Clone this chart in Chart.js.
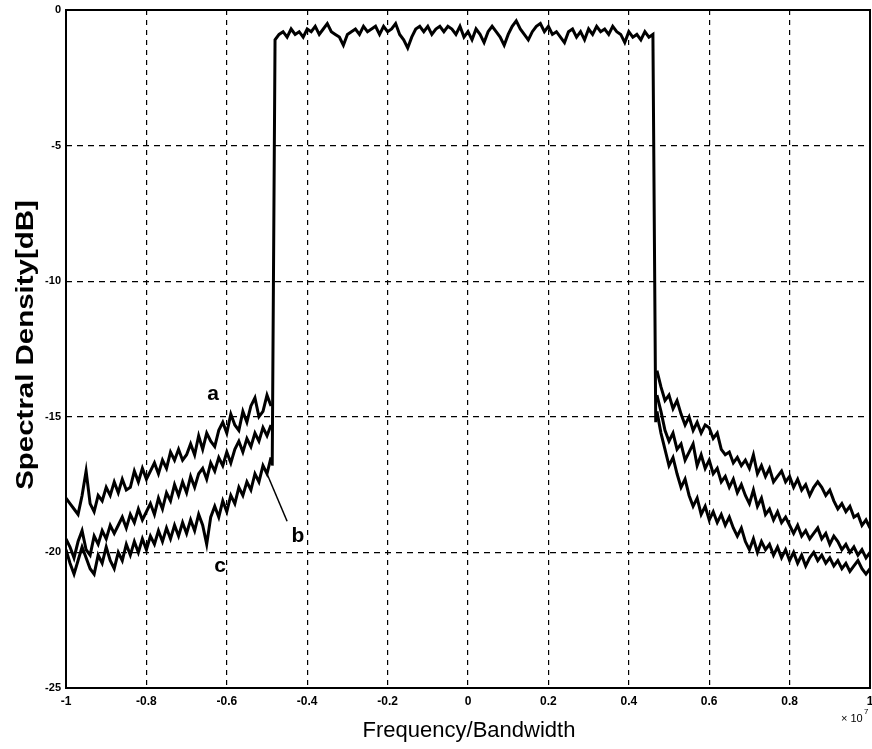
<!DOCTYPE html>
<html>
<head>
<meta charset="utf-8">
<script src="https://cdn.jsdelivr.net/npm/chart.js@4.4.1/dist/chart.umd.min.js"></script>
<style>
  html, body { margin: 0; padding: 0; background: #fff; }
  #wrap { width: 872px; height: 749px; }
</style>
</head>
<body>
<div id="wrap"><canvas id="psd" width="872" height="749"></canvas></div>
<script>
// x axis is frequency / bandwidth (x 10^7), y is spectral density in dB
const xTicks = [-1, -0.8, -0.6, -0.4, -0.2, 0, 0.2, 0.4, 0.6, 0.8, 1];
const yTicks = [0, -5, -10, -15, -20, -25];

// passband, -0.48 .. 0.46 step 0.01
const passStart = -0.48;
const passStep = 0.01;
const passLevel = [
  -1.1, -0.9, -0.8, -1.0, -0.7, -0.9, -0.8, -1.0, -0.7, -0.8,
  -0.6, -0.9, -0.7, -0.5, -0.8, -0.9, -1.0, -1.3, -0.9, -0.8,
  -0.7, -0.9, -0.6, -0.8, -0.7, -0.6, -0.9, -0.6, -0.8, -0.7,
  -0.5, -0.9, -1.1, -1.4, -1.0, -0.7, -0.6, -0.8, -0.6, -0.9,
  -0.7, -0.6, -0.8, -0.6, -0.7, -0.9, -0.6, -1.0, -0.8, -1.1,
  -0.7, -0.9, -1.2, -0.8, -0.6, -0.8, -1.0, -1.3, -0.9, -0.6,
  -0.4, -0.7, -0.9, -1.1, -0.8, -0.6, -0.5, -0.8, -0.6, -0.9,
  -0.8, -1.0, -1.2, -0.8, -0.7, -1.0, -0.8, -1.1, -0.7, -0.9,
  -0.6, -0.8, -0.7, -0.9, -0.6, -0.8, -0.9, -1.2, -0.8, -1.0,
  -0.9, -1.1, -0.8, -1.0, -0.9
];
// steep band edges
const edgeFreq = [-0.487, 0.467];
const edgeLevel = [-16.8, -15.2];

// left sidebands, -1.00 .. -0.49 step 0.01
const leftStart = -1.0;
const leftA = [
  -18.0, -18.2, -18.4, -18.6, -17.9, -17.0, -18.2, -18.5, -17.9, -18.1,
  -17.6, -17.9, -17.4, -17.8, -17.3, -17.7, -17.6, -17.0, -17.4, -16.9,
  -17.3, -17.0, -16.7, -17.1, -16.6, -16.9, -16.3, -16.6, -16.2, -16.6,
  -16.4, -16.0, -16.4, -15.7, -16.2, -15.6, -15.9, -16.1, -15.5, -15.2,
  -15.6, -14.9, -15.3, -15.5, -14.8, -15.2, -14.6, -14.3, -15.0, -14.8,
  -14.2, -14.6
];
const leftB = [
  -19.5, -19.8, -20.2, -19.6, -19.2, -19.9, -20.1, -19.4, -19.7, -19.2,
  -19.5, -19.0, -19.3, -19.0, -18.7, -19.1, -18.6, -18.9, -18.4, -18.8,
  -18.5, -18.2, -18.6, -18.0, -18.4, -17.8, -18.1, -17.5, -17.9, -17.4,
  -17.8, -17.2, -17.6, -17.1, -16.9, -17.3, -16.7, -17.0, -16.5, -16.8,
  -16.3, -16.7, -16.2, -15.9, -16.3, -15.8, -16.1, -15.6, -15.9, -15.4,
  -15.7, -15.3
];
const leftC = [
  -19.9, -20.4, -20.8, -20.3, -19.8, -20.2, -20.6, -20.8, -20.1, -20.4,
  -19.8, -20.3, -20.6, -20.0, -20.3, -19.7, -20.1, -19.6, -20.0, -19.5,
  -19.9, -19.4, -19.7, -19.2, -19.6, -19.1, -19.5, -19.0, -19.4, -18.9,
  -19.3, -18.8, -19.2, -18.6, -19.0, -19.7, -18.7, -18.3, -18.7, -18.1,
  -18.5, -17.9, -18.2, -17.6, -17.9, -17.4, -17.7, -17.1, -17.4, -16.8,
  -17.1, -16.5
];

// right sidebands, 0.47 .. 1.00 step 0.01
const rightStart = 0.47;
const rightA = [
  -13.3, -13.9, -14.4, -14.2, -14.7, -14.4, -14.9, -15.3, -15.0, -15.5,
  -15.2, -15.6, -15.3, -15.4, -15.8, -15.6, -16.2, -16.4, -16.3, -16.7,
  -16.5, -16.8, -16.6, -16.9, -16.4, -17.1, -16.8, -17.2, -16.9, -17.4,
  -17.2, -17.0, -17.4, -17.2, -17.6, -17.3, -17.7, -17.5, -17.9, -17.6,
  -17.4, -17.6, -17.9, -17.7, -18.1, -18.4, -18.2, -18.5, -18.3, -18.7,
  -18.6, -19.0, -18.8, -19.1
];
const rightB = [
  -14.2, -14.8, -15.5, -15.9, -15.6, -16.2, -16.0, -16.6, -16.3, -16.0,
  -16.8, -16.4, -16.9, -16.6, -17.1, -16.9, -17.4, -17.2, -17.6, -17.3,
  -17.8, -17.5, -17.9, -18.2, -17.7, -18.3, -18.0, -18.6, -18.4, -18.8,
  -18.5, -18.9, -18.7, -19.0, -19.3, -19.0, -19.4, -19.2, -19.5, -19.3,
  -19.1, -19.5, -19.3, -19.7, -19.4, -19.6, -19.9, -19.7, -20.0, -19.8,
  -20.1, -19.9, -20.2, -20.0
];
const rightC = [
  -14.8, -15.6, -16.2, -16.8, -16.5, -17.1, -17.6, -17.3, -17.9, -18.3,
  -18.0, -18.6, -18.3, -18.8, -18.5, -18.9, -18.6, -19.0, -18.7, -19.1,
  -19.4, -19.1, -19.6, -19.9, -19.5, -20.0, -19.6, -19.9, -19.7, -20.1,
  -19.8, -20.2, -19.9, -20.3, -20.0, -20.4, -20.1, -20.5, -20.2, -20.0,
  -20.3, -20.1, -20.4, -20.2, -20.5, -20.3, -20.6, -20.4, -20.7, -20.5,
  -20.3, -20.6, -20.8, -20.6
];

// curve labels a, b, c and the pointer line for b
const curveLabels = ["a", "b", "c"];
const labelFreq = [-0.634, -0.423, -0.617];
const labelLevel = [-14.15, -19.4, -20.5];
const pointerFreq = [-0.5, -0.45];
const pointerLevel = [-17.1, -18.85];

function toPoints(start, step, values) {
  return values.map((v, i) => ({ x: +(start + i * step).toFixed(3), y: v }));
}

let passPoints = toPoints(passStart, passStep, passLevel);
passPoints.unshift({ x: edgeFreq[0], y: edgeLevel[0] });
passPoints.push({ x: edgeFreq[1], y: edgeLevel[1] });

function lineSet(points, width) {
  return {
    data: points,
    borderColor: "#000",
    borderWidth: width,
    pointRadius: 0,
    tension: 0,
    fill: false
  };
}

const datasets = [
  lineSet(passPoints, 3),
  lineSet(toPoints(leftStart, 0.01, leftA), 3),
  lineSet(toPoints(leftStart, 0.01, leftB), 3),
  lineSet(toPoints(leftStart, 0.01, leftC), 3),
  lineSet(toPoints(rightStart, 0.01, rightA), 3),
  lineSet(toPoints(rightStart, 0.01, rightB), 3),
  lineSet(toPoints(rightStart, 0.01, rightC), 3)
];

const decorations = {
  id: "decorations",
  afterDatasetsDraw(chart) {
    const { ctx, chartArea, scales } = chart;
    const xs = scales.x;
    const ys = scales.y;
    ctx.save();
    // frame
    ctx.strokeStyle = "#000";
    ctx.lineWidth = 2;
    ctx.setLineDash([]);
    ctx.strokeRect(chartArea.left, chartArea.top, chartArea.right - chartArea.left, chartArea.bottom - chartArea.top);

    // pointer for b
    ctx.lineWidth = 1.5;
    ctx.beginPath();
    ctx.moveTo(xs.getPixelForValue(pointerFreq[0]), ys.getPixelForValue(pointerLevel[0]));
    ctx.lineTo(xs.getPixelForValue(pointerFreq[1]), ys.getPixelForValue(pointerLevel[1]));
    ctx.stroke();

    ctx.fillStyle = "#000";
    ctx.font = "bold 21px 'Liberation Sans', Arial, sans-serif";
    ctx.textAlign = "center";
    ctx.textBaseline = "middle";
    curveLabels.forEach((t, i) => {
      ctx.fillText(t, xs.getPixelForValue(labelFreq[i]), ys.getPixelForValue(labelLevel[i]));
    });

    // axis titles
    ctx.textBaseline = "alphabetic";
    ctx.font = "22px 'Liberation Sans', Arial, sans-serif";
    ctx.fillText("Frequency/Bandwidth", 469, 737);

    ctx.save();
    ctx.translate(33, 345);
    ctx.rotate(-Math.PI / 2);
    ctx.scale(1.28, 1);
    ctx.font = "bold 23px 'Liberation Sans', Arial, sans-serif";
    ctx.fillText("Spectral Density[dB]", 0, 0);
    ctx.restore();

    // exponent note
    ctx.textAlign = "left";
    ctx.font = "11px 'Liberation Sans', Arial, sans-serif";
    ctx.fillText("\u00d7 10", 841, 722);
    ctx.font = "8px 'Liberation Sans', Arial, sans-serif";
    ctx.fillText("7", 864, 714);
    ctx.restore();
  }
};

new Chart(document.getElementById("psd"), {
  type: "line",
  data: { datasets: datasets },
  plugins: [decorations],
  options: {
    responsive: false,
    animation: false,
    layout: { padding: { top: 10, right: 2, left: 0, bottom: 0 } },
    plugins: { legend: { display: false }, tooltip: { enabled: false } },
    scales: {
      x: {
        type: "linear",
        min: -1,
        max: 1,
        afterFit: (s) => { s.height = 61; s.paddingLeft = 0; s.paddingRight = 0; },
        afterBuildTicks: (s) => { s.ticks = xTicks.map((v) => ({ value: v })); },
        ticks: {
          color: "#000",
          padding: 6,
          font: { family: "'Liberation Sans', Arial, sans-serif", size: 12, weight: "bold" },
          callback: (v) => (v === 0 ? "0" : String(+v.toFixed(1)))
        },
        grid: { color: "#000", lineWidth: 1.2, drawTicks: false },
        border: { display: false, dash: [5, 5] }
      },
      y: {
        type: "linear",
        min: -25,
        max: 0,
        afterFit: (s) => { s.width = 66; s.paddingTop = 0; s.paddingBottom = 0; },
        afterBuildTicks: (s) => { s.ticks = yTicks.map((v) => ({ value: v })); },
        ticks: {
          color: "#000",
          padding: 5,
          font: { family: "'Liberation Sans', Arial, sans-serif", size: 11, weight: "bold" },
          callback: (v) => String(v)
        },
        grid: { color: "#000", lineWidth: 1.2, drawTicks: false },
        border: { display: false, dash: [6, 5] }
      }
    }
  }
});
</script>
</body>
</html>
